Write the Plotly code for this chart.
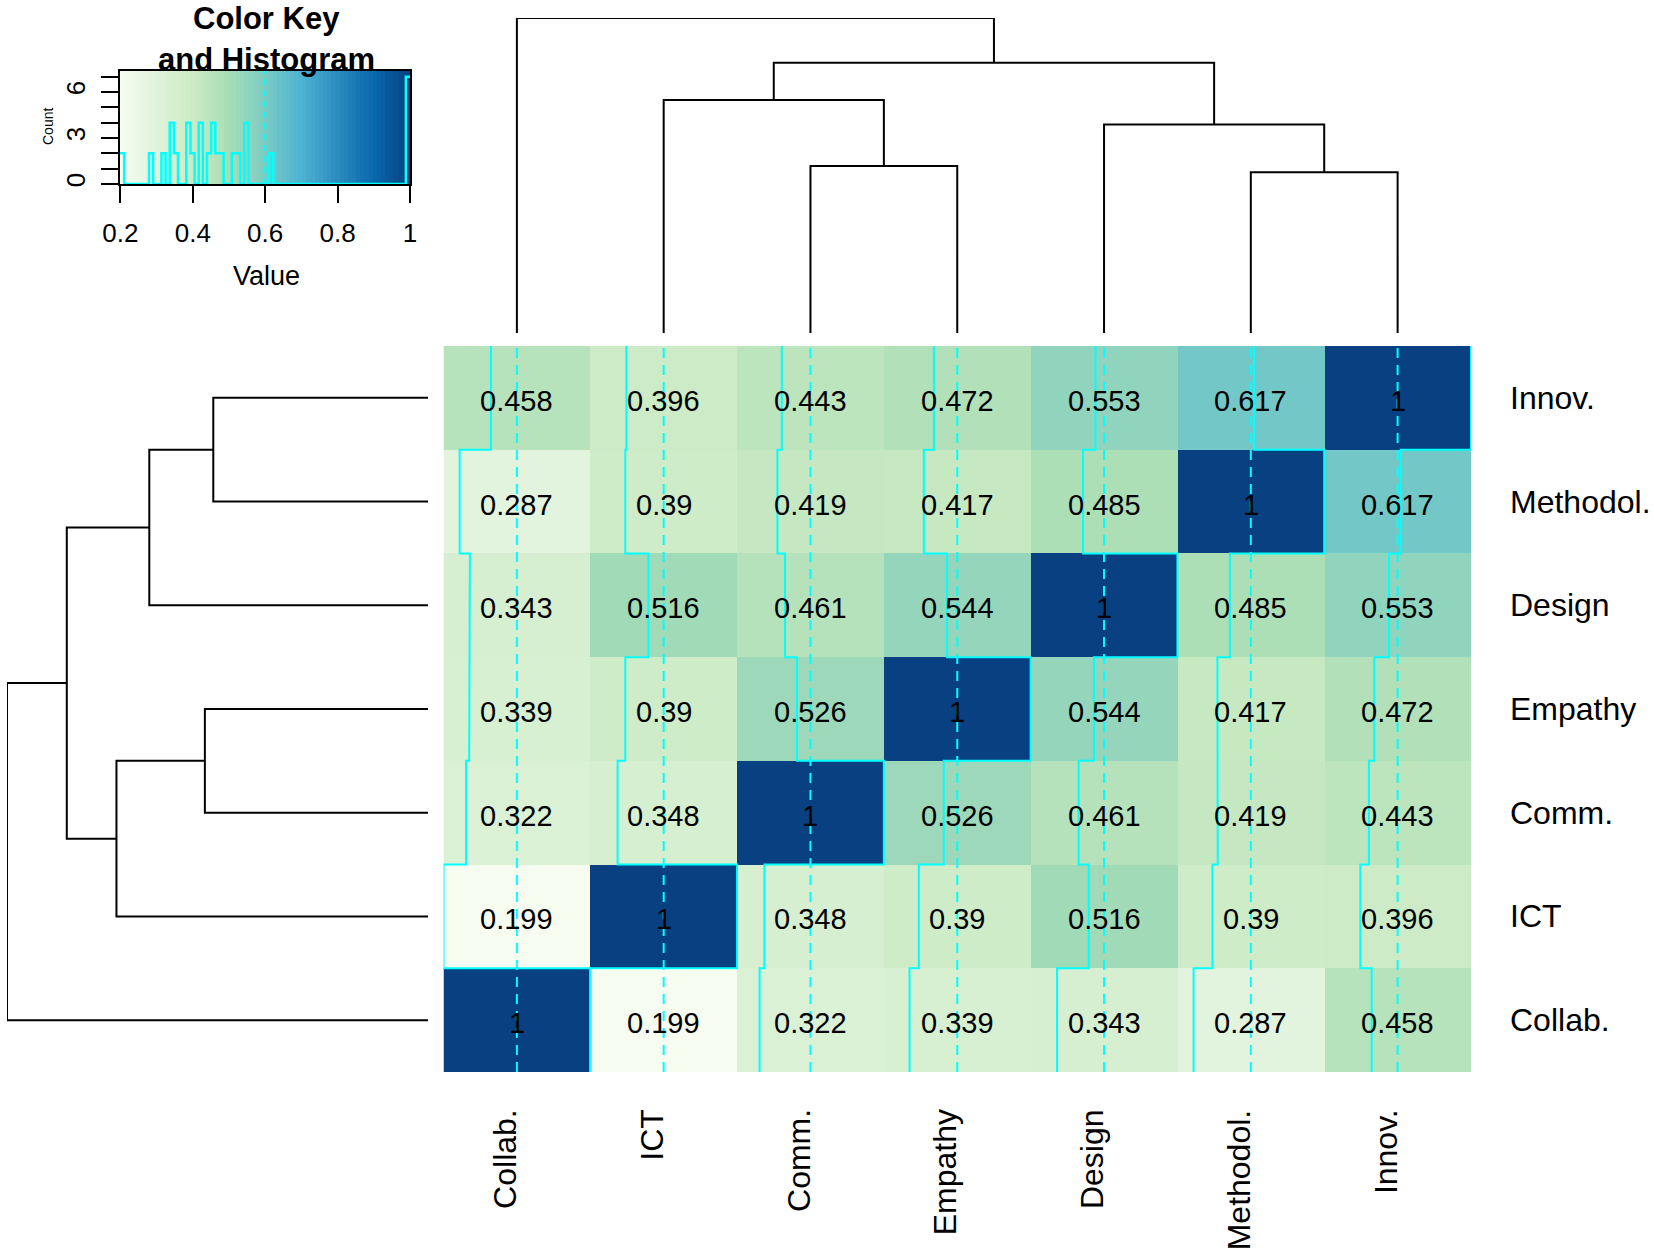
import numpy as np
import plotly.graph_objects as go

# ---------------- data ----------------
labels = ["Collab.", "ICT", "Comm.", "Empathy", "Design", "Methodol.", "Innov."]
values = [
    [1, 0.199, 0.322, 0.339, 0.343, 0.287, 0.458],   # Collab.
    [0.199, 1, 0.348, 0.39, 0.516, 0.39, 0.396],     # ICT
    [0.322, 0.348, 1, 0.526, 0.461, 0.419, 0.443],   # Comm.
    [0.339, 0.39, 0.526, 1, 0.544, 0.417, 0.472],    # Empathy
    [0.343, 0.516, 0.461, 0.544, 1, 0.485, 0.553],   # Design
    [0.287, 0.39, 0.419, 0.417, 0.485, 1, 0.617],    # Methodol.
    [0.458, 0.396, 0.443, 0.472, 0.553, 0.617, 1],   # Innov.
]
# dendrogram (hclust-style merges: negative = leaf position, positive = earlier merge)
merge_left = [-6, -3, -5, -2, 4, -1]
merge_right = [-7, -4, 1, 2, 3, 5]
merge_height = [0.51, 0.53, 0.662, 0.74, 0.858, 1.0]
key_ticks = [0.2, 0.4, 0.6, 0.8, 1]
key_ticktext = ["0.2", "0.4", "0.6", "0.8", "1"]
count_ticks = [0, 1, 2, 3, 4, 5, 6, 7]
count_ticktext = ["0", "", "", "3", "", "", "6", ""]
n_bins = 70

GnBu = ["#f7fcf0", "#e0f3db", "#ccebc5", "#a8ddb5", "#7bccc4",
        "#4eb3d3", "#2b8cbe", "#0868ac", "#084081"]
colorscale = [[i / (len(GnBu) - 1), c] for i, c in enumerate(GnBu)]
FONT = "Liberation Sans, Arial, Helvetica, sans-serif"
TRACE = "#00FFFF"

W, H = 1654, 1255
def px(x):
    return x / W
def py(y):
    return 1 - y / H

z = np.array(values, dtype=float)
n = len(labels)
vmin, vmax = float(z.min()), float(z.max())
pos = list(range(1, n + 1))

fig = go.Figure()

# heatmap
fig.add_trace(go.Heatmap(z=z, x=pos, y=pos, colorscale=colorscale, zmin=vmin, zmax=vmax,
                         showscale=False, hoverinfo="skip", xaxis="x", yaxis="y"))

# column traces (step lines) and dashed reference lines
vline = (vmin + vmax) / 2
tx, ty = [], []
dx, dy = [], []
for i in range(n):
    for j in range(n):
        xv = (i + 1) - 0.5 + (z[j, i] - vmin) / (vmax - vmin)
        tx += [xv, xv]
        ty += [(j + 1) - 0.5, (j + 1) + 0.5]
    tx.append(None); ty.append(None)
    xd = (i + 1) - 0.5 + (vline - vmin) / (vmax - vmin)
    dx += [xd, xd, None]
    dy += [0.5, n + 0.5, None]
fig.add_trace(go.Scatter(x=dx, y=dy, mode="lines", line=dict(color=TRACE, width=2, dash="10px,7px"),
                         hoverinfo="skip", xaxis="x", yaxis="y"))
fig.add_trace(go.Scatter(x=tx, y=ty, mode="lines", line=dict(color=TRACE, width=2),
                         hoverinfo="skip", xaxis="x", yaxis="y"))

# dendrograms
def dendro():
    p, h = {}, {}
    xs, ys = [], []
    def get(c):
        if c < 0:
            return float(-c), 0.0
        return p[c], h[c]
    for k, (l, r, hh) in enumerate(zip(merge_left, merge_right, merge_height), start=1):
        pl, hl = get(l)
        pr, hr = get(r)
        xs += [pl, pl, pr, pr, None]
        ys += [hl, hh, hh, hr, None]
        p[k] = (pl + pr) / 2
        h[k] = hh
    return xs, ys

dpos, dht = dendro()
fig.add_trace(go.Scatter(x=dpos, y=dht, mode="lines", line=dict(color="black", width=2),
                         hoverinfo="skip", xaxis="x2", yaxis="y2"))
fig.add_trace(go.Scatter(x=dht, y=dpos, mode="lines", line=dict(color="black", width=2),
                         hoverinfo="skip", xaxis="x3", yaxis="y3"))

# colour key + histogram (right-closed bins, as R's hist)
breaks = np.linspace(vmin, vmax, n_bins + 1)
mids = (breaks[:-1] + breaks[1:]) / 2
idx = np.clip(np.searchsorted(breaks, z.flatten(), side="left") - 1, 0, n_bins - 1)
counts = np.bincount(idx, minlength=n_bins)
ymax_key = counts.max() / 0.95
fig.add_trace(go.Heatmap(z=[mids], x=breaks, y=[0, ymax_key], colorscale=colorscale,
                         zmin=vmin, zmax=vmax, showscale=False, hoverinfo="skip",
                         xaxis="x4", yaxis="y4"))
hy = list(counts) + [counts[-1]]
fig.add_trace(go.Scatter(x=breaks, y=hy, mode="lines", line=dict(color=TRACE, width=2.5, shape="hv"),
                         hoverinfo="skip", xaxis="x4", yaxis="y4"))
fig.add_trace(go.Scatter(x=[vline, vline], y=[0, ymax_key], mode="lines",
                         line=dict(color=TRACE, width=2, dash="6px,5px"),
                         hoverinfo="skip", xaxis="x4", yaxis="y4"))

hid = dict(visible=False, showgrid=False, zeroline=False, automargin=False)
hm_x = [px(443.5), px(1471)]
hm_y = [py(1072), py(346)]
layout = dict(
    width=W, height=H, margin=dict(l=0, r=0, t=0, b=0, autoexpand=False),
    paper_bgcolor="white", plot_bgcolor="white", showlegend=False,
    xaxis=dict(domain=hm_x, range=[0.5, n + 0.5], **hid),
    yaxis=dict(domain=hm_y, range=[0.5, n + 0.5], **hid),
    xaxis2=dict(domain=hm_x, range=[0.5, n + 0.5], anchor="y2", **hid),
    yaxis2=dict(domain=[py(333), py(18)], range=[0, max(merge_height)], anchor="x2", **hid),
    xaxis3=dict(domain=[px(7), px(428)], range=[max(merge_height), 0], anchor="y3", **hid),
    yaxis3=dict(domain=hm_y, range=[0.5, n + 0.5], anchor="x3", **hid),
    xaxis4=dict(domain=[px(120), px(410)], range=[vmin, vmax], anchor="y4", automargin=False,
                showgrid=False, zeroline=False, showline=True, mirror=True,
                linecolor="black", linewidth=2, ticks="outside", ticklen=17, tickwidth=2,
                tickcolor="black", tickvals=key_ticks, ticktext=key_ticktext,
                tickfont=dict(family=FONT, size=26, color="black"), ticklabelstandoff=8),
    yaxis4=dict(domain=[py(184), py(71)], range=[0, ymax_key], anchor="x4", automargin=False,
                showgrid=False, zeroline=False, showline=True, mirror=True,
                linecolor="black", linewidth=2, ticks="outside", ticklen=17, tickwidth=2,
                tickcolor="black", tickvals=count_ticks, ticktext=count_ticktext, tickangle=-90,
                tickfont=dict(family=FONT, size=26, color="black"), ticklabelstandoff=6),
)
fig.update_layout(**layout)

ann = []
# cell notes (drawn on top of the trace lines)
for j in range(n):
    for i in range(n):
        ann.append(dict(text=f"{z[j, i]:g}", xref="x", yref="y", x=i + 1, y=j + 1, yshift=-3,
                        xanchor="center", yanchor="middle", showarrow=False,
                        font=dict(family=FONT, size=29, color="black")))
for j, lab in enumerate(labels):
    ann.append(dict(text=lab, xref="paper", x=px(1508), xanchor="left", yref="y", y=j + 1,
                    yanchor="middle", showarrow=False,
                    font=dict(family=FONT, size=32, color="black")))
    ann.append(dict(text=lab, xref="x", x=j + 1, xshift=-12, xanchor="center", yref="paper",
                    y=py(1107), yanchor="top", textangle=-90, showarrow=False,
                    font=dict(family=FONT, size=32, color="black")))
ann.append(dict(text="<b>Color Key</b>", xref="paper", yref="paper", x=px(266), y=py(19),
                xanchor="center", yanchor="middle", showarrow=False,
                font=dict(family=FONT, size=31, color="black")))
ann.append(dict(text="<b>and Histogram</b>", xref="paper", yref="paper", x=px(266), y=py(59),
                xanchor="center", yanchor="middle", showarrow=False,
                font=dict(family=FONT, size=31, color="black")))
ann.append(dict(text="Value", xref="paper", yref="paper", x=px(266), y=py(276),
                xanchor="center", yanchor="middle", showarrow=False,
                font=dict(family=FONT, size=27, color="black")))
ann.append(dict(text="Count", xref="paper", yref="paper", x=px(48), y=py(127),
                xanchor="center", yanchor="middle", textangle=-90, showarrow=False,
                font=dict(family=FONT, size=14, color="black")))
fig.update_layout(annotations=ann)

fig.write_html("out.html", config={"displayModeBar": False},
               post_script="document.body.style.margin='0px';document.body.style.overflow='hidden';")
